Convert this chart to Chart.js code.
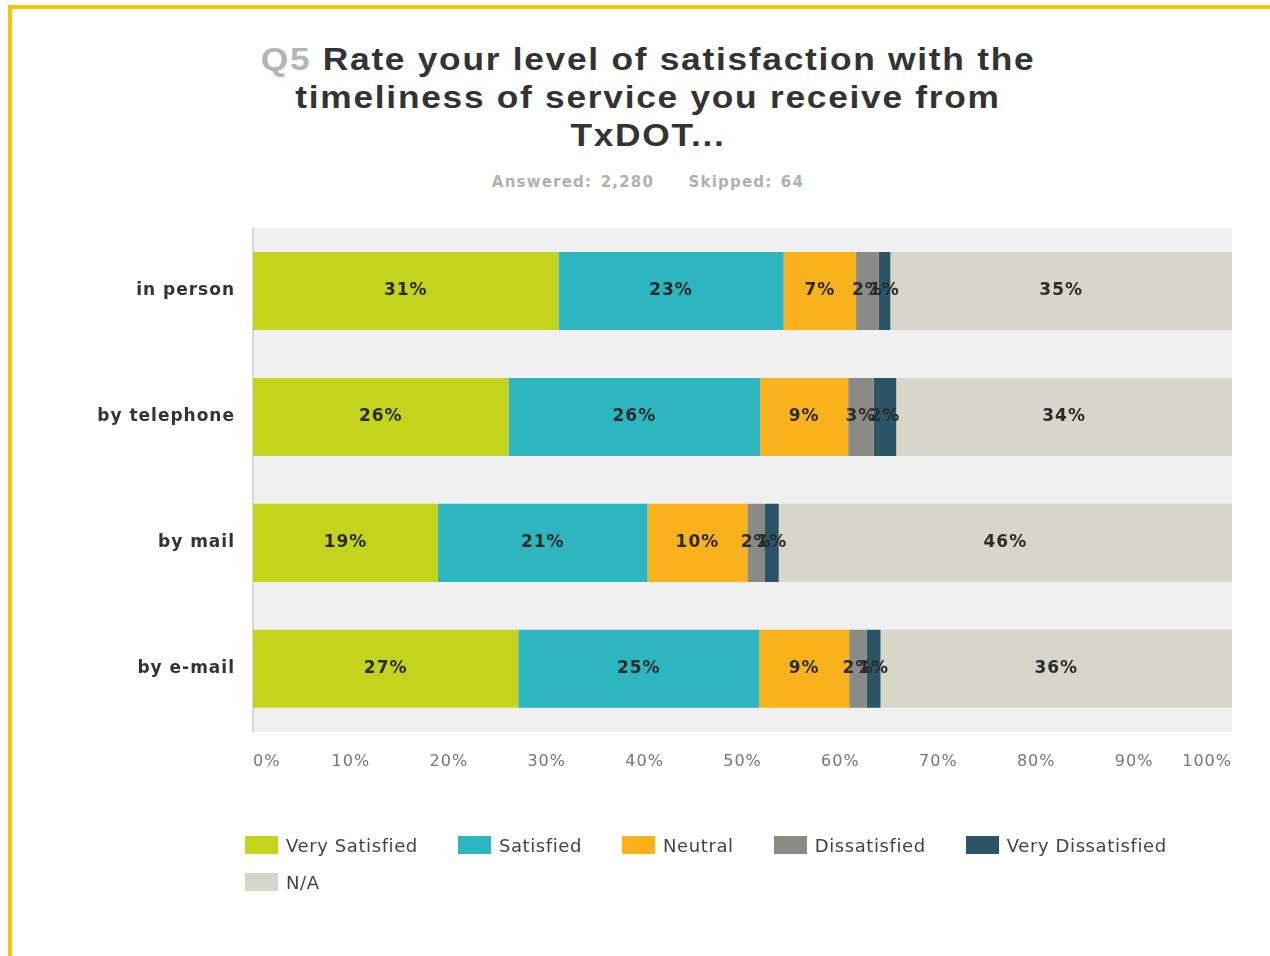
<!DOCTYPE html>
<html lang="en">
<head>
  <meta charset="UTF-8">
  <title>Q5 Rate your level of satisfaction with the timeliness of service you receive from TxDOT...</title>
  <style>
    body {
      margin: 0;
      width: 1270px;
      height: 956px;
      overflow: hidden;
      background: #fff;
      font-family: 'DejaVu Sans', Arial, sans-serif;
      color: #333;
    }

    #frame {
      position: absolute;
      left: 8px;
      top: 5px;
      right: 0;
      bottom: 0;
      border-top: 4px solid #ffc400;
      border-left: 4px solid #ffc400;
    }

    h1 {
      position: absolute;
      left: 148px;
      top: 41px;
      width: 1000px;
      margin: 0;
      text-align: center;
      font-family: 'Liberation Sans', Arial, sans-serif;
      font-size: 31px;
      line-height: 38px;
      letter-spacing: 1.5px;
      font-weight: 700;
      color: #333;
      transform: scaleX(1.14);
      transform-origin: 500px 0;
    }

    h1 span { color: #b5b5b5; }

    .answered {
      position: absolute;
      left: 148px;
      top: 173px;
      width: 1000px;
      text-align: center;
      font-size: 15px;
      font-weight: 700;
      letter-spacing: 1.2px;
      color: #b0b0b0;
      word-spacing: 2px;
    }

    .answered b { margin-left: 26px; font-weight: 700; }

    #chart {
      position: absolute;
      left: 0;
      top: 0;
    }

    #legend {
      position: absolute;
      left: 245px;
      top: 836px;
      width: 990px;
      display: flex;
      flex-wrap: wrap;
      row-gap: 19px;
      font-size: 18px;
      letter-spacing: 0.6px;
      color: #444;
    }

    #legend div {
      display: flex;
      align-items: center;
      height: 18px;
      margin-right: 40px;
    }

    #legend i {
      display: inline-block;
      width: 33px;
      height: 18px;
      margin-right: 8px;
    }
  </style>
</head>
<body>
  <div id="frame"></div>
  <h1><span>Q5</span> Rate your level of satisfaction with the<br>timeliness of service you receive from<br>TxDOT...</h1>
  <div class="answered">Answered: 2,280 <b>Skipped: 64</b></div>

  <canvas id="chart" width="1270" height="956"></canvas>
  <div id="legend"></div>

  <script src="https://cdn.jsdelivr.net/npm/chart.js"></script>
  <script>
    const categories = ['in person', 'by telephone', 'by mail', 'by e-mail'];
    const seriesNames = ['Very Satisfied', 'Satisfied', 'Neutral', 'Dissatisfied', 'Very Dissatisfied', 'N/A'];
    const colors = ['#c4d41c', '#2eb6c0', '#f9b21b', '#8a8a86', '#2b5466', '#d6d6ca'];

    const verySatisfied    = [31.2, 26.1, 18.9, 27.1];
    const satisfied        = [23.0, 25.7, 21.4, 24.6];
    const neutral          = [7.4, 9.0, 10.2, 9.2];
    const dissatisfied     = [2.3, 2.6, 1.8, 1.8];
    const veryDissatisfied = [1.2, 2.3, 1.4, 1.4];
    const notApplicable    = [34.9, 34.3, 46.3, 35.9];

    const xTicks = ['0%', '10%', '20%', '30%', '40%', '50%', '60%', '70%', '80%', '90%', '100%'];

    const series = [verySatisfied, satisfied, neutral, dissatisfied, veryDissatisfied, notApplicable];

    // fond gris de la zone + lettres espacées
    const areaBg = {
      id: 'areaBg',
      beforeUpdate(chart) { chart.ctx.letterSpacing = '1px'; },
      beforeDraw(chart) {
        const {ctx, chartArea: a} = chart;
        ctx.letterSpacing = '1px';
        ctx.save();
        ctx.fillStyle = '#f0f0f0';
        ctx.fillRect(a.left, a.top, a.right - a.left, a.bottom - a.top);
        ctx.restore();
      }
    };

    // pourcentages au milieu des segments
    const segLabels = {
      id: 'segLabels',
      afterDatasetsDraw(chart) {
        const ctx = chart.ctx;
        ctx.save();
        ctx.font = 'bold 17px "DejaVu Sans"';
        ctx.fillStyle = '#2b2b2b';
        ctx.textAlign = 'center';
        ctx.textBaseline = 'middle';
        chart.data.datasets.forEach((ds, i) => {
          chart.getDatasetMeta(i).data.forEach((bar, j) => {
            ctx.fillText(Math.round(ds.data[j]) + '%', (bar.x + bar.base) / 2, bar.y);
          });
        });
        ctx.restore();
      }
    };

    new Chart(document.getElementById('chart'), {
      type: 'bar',
      data: {
        labels: categories,
        datasets: seriesNames.map((name, i) => ({
          label: name,
          data: series[i],
          backgroundColor: colors[i],
          borderWidth: 0,
          barPercentage: 0.62,
          categoryPercentage: 1
        }))
      },
      options: {
        indexAxis: 'y',
        responsive: false,
        animation: false,
        layout: { padding: { top: 228, right: 38, bottom: 165, left: 0 } },
        plugins: {
          legend: { display: false },
          tooltip: { enabled: false }
        },
        scales: {
          x: {
            stacked: true,
            min: 0,
            max: 100,
            grid: { display: false, drawTicks: false },
            border: { display: false },
            ticks: {
              stepSize: 10,
              align: 'inner',
              padding: 20,
              color: '#777',
              font: { family: 'DejaVu Sans', size: 16 },
              callback: (v, i) => xTicks[i]
            }
          },
          y: {
            stacked: true,
            grid: { display: false, drawTicks: false },
            border: { display: true, color: '#d8d8d8', width: 2 },
            afterFit: s => { s.width = 253; },
            ticks: {
              padding: 18,
              color: '#333',
              font: { family: 'DejaVu Sans', size: 17, weight: 'bold' }
            }
          }
        }
      },
      plugins: [areaBg, segLabels]
    });

    // légende
    const legend = document.getElementById('legend');
    seriesNames.forEach((name, i) => {
      const item = document.createElement('div');
      const box = document.createElement('i');
      box.style.background = colors[i];
      item.appendChild(box);
      item.appendChild(document.createTextNode(name));
      legend.appendChild(item);
    });
  </script>
</body>
</html>
